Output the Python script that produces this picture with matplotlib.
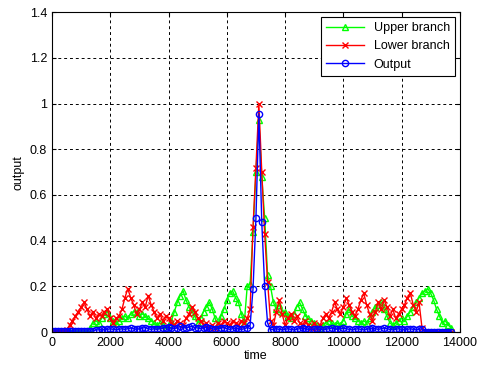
import numpy as np
import matplotlib.pyplot as plt

plt.rcParams['font.family'] = ['Liberation Sans', 'DejaVu Sans']

# sampled every 100 time units, 0 .. 13700
time = np.arange(0, 13800, 100)

upper_branch = [
    0, 0, 0, 0, 0, 0, 0, 0, 0, 0, 0, 0, 0, 0.02, 0.04, 0.05, 0.04, 0.06, 0.08, 0.09,
    0.06, 0.05, 0.04, 0.05, 0.06, 0.07, 0.06, 0.08, 0.09, 0.09, 0.07, 0.08, 0.07, 0.06, 0.05, 0.04,
    0.03, 0.04, 0.03, 0.02, 0.03, 0.05, 0.09, 0.13, 0.16, 0.18, 0.14, 0.11, 0.09, 0.07,
    0.04, 0.06, 0.09, 0.11, 0.13, 0.10, 0.06, 0.03, 0.07, 0.10, 0.14, 0.17, 0.18, 0.15,
    0.13, 0.08, 0.04, 0.20, 0.21, 0.44, 0.70, 0.93, 0.68, 0.50, 0.25, 0.20, 0.13, 0.10,
    0.12, 0.09, 0.09, 0.07, 0.06, 0.08, 0.11, 0.13, 0.10, 0.07, 0.06, 0.05, 0.04, 0.03,
    0.02, 0.03, 0.04, 0.05, 0.04, 0.03, 0.04, 0.03, 0.05, 0.08, 0.10, 0.07, 0.06, 0.05,
    0.04, 0.05, 0.04, 0.06, 0.09, 0.11, 0.12, 0.13, 0.10, 0.07, 0.04, 0.03, 0.04, 0.05,
    0.06, 0.05, 0.07, 0.09, 0.11, 0.13, 0.15, 0.17, 0.18, 0.19, 0.17, 0.14, 0.10, 0.07,
    0.04, 0.05, 0.03, 0.02,
]

lower_branch = [
    0, 0, 0, 0, 0, 0.01, 0.03, 0.05, 0.07, 0.09, 0.11, 0.13, 0.10, 0.07, 0.09, 0.06,
    0.08, 0.07, 0.09, 0.10, 0.06, 0.04, 0.06, 0.07, 0.10, 0.15, 0.19, 0.15, 0.12, 0.08,
    0.10, 0.13, 0.11, 0.16, 0.12, 0.09, 0.06, 0.08, 0.05, 0.07, 0.06, 0.04, 0.03, 0.05,
    0.04, 0.03, 0.06, 0.08, 0.11, 0.09, 0.06, 0.05, 0.03, 0.04, 0.02, 0.03, 0.02, 0.04,
    0.03, 0.05, 0.04, 0.03, 0.05, 0.04, 0.03, 0.05, 0.04, 0.06, 0.10, 0.46, 0.72, 1.0,
    0.70, 0.43, 0.22, 0.05, 0.03, 0.09, 0.14, 0.08, 0.03, 0.06, 0.08, 0.05, 0.07, 0.04,
    0.03, 0.05, 0.03, 0.02, 0.04, 0.02, 0.03, 0.06, 0.08, 0.06, 0.09, 0.13, 0.10, 0.08,
    0.11, 0.15, 0.12, 0.09, 0.07, 0.10, 0.14, 0.17, 0.12, 0.08, 0.05, 0.09, 0.13, 0.10,
    0.14, 0.11, 0.07, 0.10, 0.06, 0.08, 0.10, 0.12, 0.15, 0.17, 0.12, 0.09, 0.13, 0.02,
    0, 0, 0, 0, 0, 0, 0, 0, 0, 0,
]

output = [
    0.005, 0.005, 0.005, 0.005, 0.005, 0.005, 0.005, 0.005, 0.005, 0.005, 0.005, 0.005,
    0.005, 0.005, 0.005, 0.01, 0.01, 0.012, 0.01, 0.012, 0.015, 0.012, 0.01, 0.012, 0.015,
    0.012, 0.015, 0.018, 0.015, 0.012, 0.015, 0.018, 0.02, 0.015, 0.012, 0.015, 0.012,
    0.015, 0.018, 0.02, 0.022, 0.018, 0.015, 0.02, 0.025, 0.02, 0.018, 0.022, 0.025,
    0.02, 0.018, 0.015, 0.02, 0.022, 0.018, 0.015, 0.012, 0.015, 0.018, 0.02, 0.015,
    0.012, 0.015, 0.018, 0.015, 0.012, 0.015, 0.02, 0.03, 0.19, 0.50, 0.955, 0.48, 0.20,
    0.04, 0.01, 0.012, 0.015, 0.012, 0.01, 0.012, 0.015, 0.012, 0.01, 0.012, 0.015,
    0.018, 0.015, 0.012, 0.01, 0.012, 0.015, 0.012, 0.01, 0.012, 0.015, 0.018, 0.015,
    0.012, 0.015, 0.018, 0.015, 0.012, 0.01, 0.012, 0.015, 0.012, 0.01, 0.012, 0.015,
    0.018, 0.015, 0.012, 0.015, 0.018, 0.015, 0.012, 0.01, 0.012, 0.015, 0.012, 0.01,
    0.012, 0.015, 0.012, 0.01, 0.012, 0.015, 0.002, 0.002, 0.002, 0.002, 0.002, 0.002,
    0.002, 0.002, 0.002, 0.002,
]

fig = plt.figure(figsize=(4.82, 3.67), dpi=100)
ax = fig.add_axes([0.108, 0.095, 0.846, 0.872])

ax.plot(time, upper_branch, color='#00ff00', marker='^', markersize=5,
        markerfacecolor='none', linewidth=1, label='Upper branch')
ax.plot(time, lower_branch, color='#ff0000', marker='x', markersize=5,
        linewidth=1, label='Lower branch')
ax.plot(time, output, color='#0000ff', marker='o', markersize=4.5,
        markerfacecolor='none', linewidth=1, label='Output')

ax.set_xlim(0, 14000)
ax.set_ylim(0, 1.4)
ax.set_xticks(np.arange(0, 14001, 2000))
ax.set_yticks(np.arange(0, 1.41, 0.2))
ax.set_yticklabels(['0', '0.2', '0.4', '0.6', '0.8', '1', '1.2', '1.4'])
ax.tick_params(direction='in', top=True, right=True, labelsize=9, length=3)
ax.grid(True, color='black', linestyle=(0, (3, 3)), linewidth=0.7)
for s in ax.spines.values():
    s.set_linewidth(0.8)

ax.set_xlabel('time', fontsize=9, labelpad=1)
ax.set_ylabel('output', fontsize=9, labelpad=4)

leg = ax.legend(loc='upper right', fontsize=9, fancybox=False, framealpha=1,
                edgecolor='black', borderaxespad=0.4, handlelength=3)
leg.get_frame().set_linewidth(0.8)

fig.savefig('out.png', dpi=100)
